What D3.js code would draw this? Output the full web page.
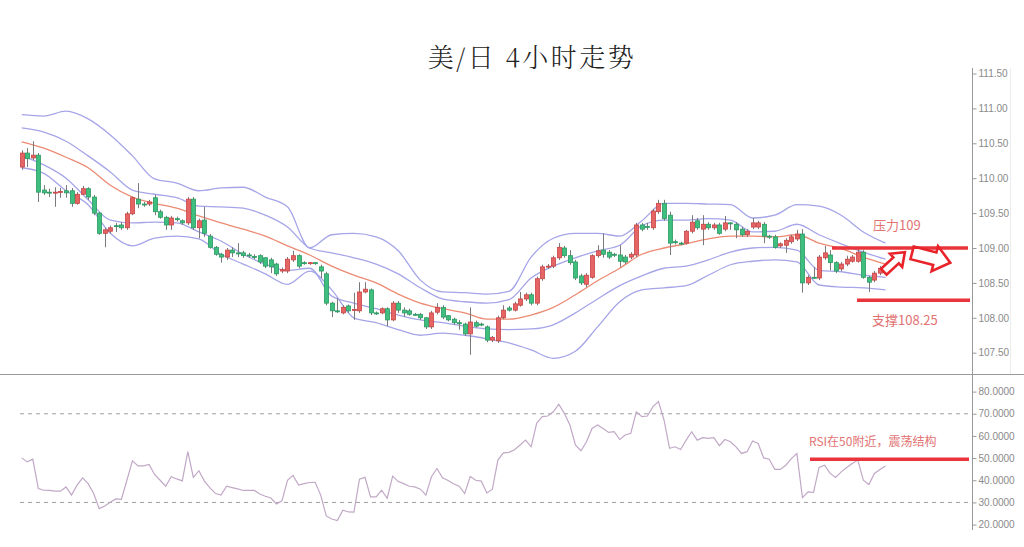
<!DOCTYPE html>
<html><head><meta charset="utf-8">
<script src="https://cdn.jsdelivr.net/npm/d3@7"></script>
<style>body{margin:0;background:#fff}svg{display:block}</style>
</head><body><svg id="c" width="1024" height="547"></svg>
<script>
const title = "美/日 4小时走势";
const opens = [110.16,110.36,110.29,110.33,109.83,109.80,109.79,109.80,109.82,109.82,
109.64,109.77,109.85,109.73,109.50,109.21,109.24,109.32,109.33,109.29,
109.49,109.70,109.63,109.63,109.72,109.52,109.44,109.33,109.42,109.39,
109.36,109.70,109.29,109.40,109.17,109.01,108.91,108.87,108.97,108.93,
108.93,108.90,108.88,108.89,108.86,108.83,108.77,108.67,108.67,108.83,
108.89,108.79,108.78,108.79,108.73,108.63,108.21,108.10,108.07,108.17,
108.11,108.10,108.37,108.40,108.07,108.07,108.13,107.97,108.21,108.11,
108.10,108.05,108.05,108.00,107.87,108.08,108.15,108.03,107.98,107.93,
107.91,107.77,107.93,107.91,107.87,107.68,107.67,108.00,108.14,108.11,
108.18,108.27,108.33,108.21,108.56,108.73,108.74,108.86,109.00,108.89,
108.80,108.60,108.48,108.58,108.89,108.97,108.94,108.91,108.90,108.87,
108.87,108.90,109.33,109.31,109.29,109.52,109.64,109.47,109.09,109.07,
109.07,109.24,109.39,109.27,109.34,109.29,109.33,109.27,109.36,109.34,
109.27,109.19,109.30,109.30,109.34,109.17,109.16,109.03,109.04,109.09,
109.13,109.20,108.50,108.58,108.57,108.86,108.90,108.79,108.70,108.77,
108.81,108.81,108.94,108.58,108.54,108.64,108.71];
const highs = [110.40,110.43,110.53,110.36,109.90,109.85,109.87,109.86,109.90,109.86,
109.80,109.89,109.87,109.76,109.52,109.29,109.32,109.36,109.37,109.52,
109.74,109.93,109.66,109.69,109.76,109.55,109.46,109.46,109.45,109.41,
109.73,109.73,109.42,109.59,109.20,109.03,108.93,109.00,109.01,109.07,
108.96,108.93,108.91,108.91,108.87,108.86,108.79,108.72,108.87,108.96,
108.91,108.81,108.80,108.80,108.76,108.66,108.23,108.28,108.18,108.19,
108.36,108.51,108.51,108.42,108.09,108.15,108.15,108.24,108.24,108.15,
108.13,108.07,108.07,108.01,108.10,108.21,108.18,108.04,108.00,107.97,
107.93,108.15,107.96,107.93,107.89,107.74,108.03,108.18,108.17,108.23,
108.37,108.36,108.36,108.59,108.76,108.77,108.89,109.07,109.03,108.97,
108.83,108.63,108.64,108.91,109.04,109.21,108.97,108.93,109.04,108.90,
108.94,109.36,109.36,109.36,109.56,109.69,109.69,109.52,109.12,109.09,
109.26,109.47,109.43,109.47,109.37,109.36,109.36,109.46,109.37,109.37,
109.30,109.27,109.43,109.39,109.37,109.19,109.19,109.08,109.14,109.19,
109.26,109.27,108.61,108.73,108.90,109.03,108.97,108.81,108.80,108.89,
108.90,108.99,108.97,108.60,108.67,108.74,108.80];
const lows = [110.12,110.16,110.26,109.66,109.76,109.73,109.59,109.72,109.72,109.59,
109.62,109.76,109.69,109.47,109.19,109.01,109.21,109.23,109.26,109.26,
109.47,109.57,109.59,109.60,109.47,109.42,109.26,109.26,109.38,109.33,
109.33,109.26,109.14,109.16,108.99,108.89,108.79,108.83,108.87,108.87,
108.86,108.86,108.84,108.77,108.71,108.64,108.60,108.64,108.64,108.80,
108.71,108.76,108.76,108.76,108.57,108.18,108.01,108.07,108.05,108.07,
107.97,108.07,108.35,108.04,108.04,108.05,107.88,107.95,108.07,108.01,
108.03,108.03,107.97,107.84,107.84,108.05,107.98,107.95,107.90,107.83,
107.74,107.47,107.86,107.88,107.65,107.65,107.64,107.98,108.09,108.09,
108.16,108.24,108.18,108.18,108.53,108.70,108.71,108.83,108.86,108.76,
108.54,108.47,108.44,108.56,108.86,108.86,108.84,108.87,108.73,108.77,
108.84,108.87,109.24,109.26,109.26,109.49,109.39,108.90,109.05,109.04,
109.05,109.21,109.26,109.04,109.26,109.26,109.19,109.24,109.26,109.14,
109.16,109.16,109.27,109.27,109.07,109.13,108.99,109.00,108.93,109.06,
109.10,108.36,108.47,108.56,108.54,108.83,108.68,108.64,108.67,108.74,
108.79,108.79,108.56,108.37,108.51,108.61,108.69];
const closes = [110.36,110.28,110.33,109.80,109.79,109.79,109.80,109.81,109.79,109.64,
109.77,109.85,109.73,109.50,109.21,109.26,109.29,109.31,109.29,109.49,
109.72,109.63,109.62,109.66,109.52,109.44,109.33,109.43,109.41,109.36,
109.70,109.29,109.39,109.21,109.01,108.91,108.87,108.97,108.93,108.92,
108.89,108.89,108.87,108.80,108.74,108.73,108.63,108.69,108.84,108.89,
108.74,108.78,108.79,108.78,108.67,108.21,108.10,108.09,108.15,108.10,
108.12,108.37,108.41,108.07,108.06,108.13,107.97,108.21,108.11,108.07,
108.05,108.04,108.00,107.87,108.07,108.15,108.01,107.97,107.93,107.92,
107.77,107.94,107.88,107.90,107.68,107.72,108.00,108.11,108.11,108.20,
108.27,108.33,108.21,108.56,108.73,108.74,108.86,109.01,108.89,108.79,
108.57,108.50,108.61,108.89,108.96,108.91,108.87,108.90,108.81,108.80,
108.91,109.33,109.27,109.30,109.53,109.64,109.42,109.07,109.08,109.06,
109.24,109.37,109.29,109.34,109.29,109.33,109.21,109.36,109.35,109.26,
109.19,109.24,109.36,109.36,109.17,109.16,109.01,109.06,109.11,109.16,
109.20,108.50,108.58,108.57,108.87,108.93,108.79,108.67,108.77,108.84,
108.87,108.94,108.58,108.51,108.64,108.71,108.76];

const bandIdx = [0,4,8,12,16,20,24,28,32,36,40,44,48,52,56,60,64,68,72,76,
80,84,88,92,96,100,104,108,112,116,120,124,128,132,136,140,144,148,152,156];
const bandUpperOuter = [110.91,110.89,110.96,110.85,110.62,110.32,109.99,109.93,109.82,109.86,
109.87,109.73,109.59,109.00,109.19,109.21,109.16,108.96,108.54,108.37,
108.36,108.34,108.38,108.87,109.14,109.21,109.21,109.17,109.39,109.64,
109.64,109.63,109.62,109.43,109.47,109.62,109.60,109.47,109.23,109.07];
const bandUpperInner = [110.72,110.66,110.53,110.32,110.09,109.83,109.77,109.72,109.60,109.59,
109.57,109.47,109.30,109.00,108.93,108.86,108.77,108.63,108.43,108.27,
108.23,108.21,108.26,108.57,108.74,108.86,108.96,109.04,109.32,109.40,
109.40,109.42,109.40,109.23,109.24,109.34,109.19,109.06,108.94,108.84];
const bandMiddle = [110.52,110.43,110.30,110.15,109.90,109.73,109.64,109.57,109.46,109.36,
109.27,109.17,109.03,108.90,108.74,108.61,108.50,108.34,108.21,108.13,
108.07,107.98,107.98,108.04,108.15,108.33,108.53,108.71,108.91,109.00,
109.06,109.13,109.17,109.17,109.16,109.19,109.07,108.99,108.87,108.77];
const bandLowerInner = [110.32,110.19,110.00,109.69,109.40,109.36,109.37,109.36,109.23,109.10,
108.91,108.77,108.68,108.71,108.31,108.21,108.13,108.04,107.97,107.93,
107.88,107.84,107.83,107.84,107.90,108.07,108.27,108.46,108.60,108.71,
108.74,108.83,108.94,109.00,109.01,108.97,108.68,108.66,108.61,108.58];
const bandLowerOuter = [110.15,110.07,109.82,109.62,109.21,109.03,109.14,109.17,109.13,108.91,
108.77,108.63,108.48,108.67,108.40,108.00,107.93,107.83,107.75,107.78,
107.75,107.70,107.64,107.54,107.42,107.52,107.87,108.23,108.40,108.43,
108.46,108.61,108.76,108.81,108.83,108.80,108.47,108.44,108.43,108.40];

const rsi = [50.1,48.3,49.5,36.3,35.5,35.4,35.1,35.1,37.0,33.3,
37.8,41.1,38.5,34.0,27.2,28.4,30.1,31.6,31.4,40.0,
48.8,46.5,46.5,47.1,42.6,40.0,37.3,41.6,40.6,39.7,
52.9,41.3,44.3,39.6,36.6,34.0,33.3,37.3,36.7,36.1,
35.4,35.4,35.4,33.8,32.8,32.0,29.3,30.7,40.0,42.2,
37.8,38.5,39.0,39.1,33.3,23.9,22.5,21.8,26.5,25.7,
25.6,40.5,41.3,32.5,32.5,35.5,31.9,41.9,39.4,38.5,
37.3,37.0,36.0,33.3,41.6,45.3,41.1,39.9,38.4,37.3,
34.0,41.7,40.0,39.6,34.3,36.0,49.1,52.4,52.6,53.8,
55.9,58.1,55.1,65.7,68.7,69.0,70.9,74.3,70.2,64.9,
55.9,53.3,57.4,63.4,64.9,63.4,61.6,61.9,58.4,60.4,
61.2,70.9,68.7,69.0,73.2,75.5,67.2,54.4,55.1,53.9,
58.1,61.9,58.1,59.2,58.9,59.2,55.6,58.4,57.4,55.1,
52.1,52.9,57.7,56.6,50.1,49.5,44.9,44.9,46.8,49.8,
52.1,32.2,34.8,34.5,45.8,46.8,43.1,41.3,43.8,45.8,
47.6,49.1,40.0,38.1,43.1,44.9,46.4];

const priceTicks = [107.5,108.0,108.5,109.0,109.5,110.0,110.5,111.0,111.5];
const rsiTicks = [20,30,40,50,60,70,80];
const rsiGuides = [30,70];
const resistanceLevel = 109.00;
const supportLevel = 108.25;
const rsiLevel = 49.5;
const resistanceLabel = "压力109";
const supportLabel = "支撑108.25";
const rsiLabel = "RSI在50附近，震荡结构";
// hollow arrow annotations: [fromIndex, fromPrice, toIndex, toPrice]
const arrowA = [155.7, 108.66, 159.5, 108.94];
const arrowB = [160.8, 108.93, 167.7, 108.79];

const svg = d3.select("#c");
svg.append("rect").attr("width",1024).attr("height",547).attr("fill","#fff");

const x = d3.scaleLinear().domain([0,156]).range([21.7,885.5]);
const y = d3.scaleLinear().domain([107.5,111.5]).range([352.7,73.5]);
const yr = d3.scaleLinear().domain([20,80]).range([524.6,391.6]);
const AXIS_X = 972;

// title
svg.append("text").attr("x",532).attr("y",67).attr("text-anchor","middle")
  .attr("font-family","'Noto Serif CJK SC','Noto Sans CJK SC',serif")
  .attr("font-size",26).attr("font-weight",300).attr("letter-spacing",2.5).attr("fill","#222").text(title);

// frame lines
svg.append("line").attr("x1",0).attr("x2",1024).attr("y1",374.5).attr("y2",374.5).attr("stroke","#9a9a9a");
svg.append("line").attr("x1",AXIS_X+0.5).attr("x2",AXIS_X+0.5).attr("y1",68).attr("y2",530).attr("stroke","#999");
svg.append("line").attr("x1",1010.5).attr("x2",1010.5).attr("y1",68).attr("y2",374).attr("stroke","#ececec");

// price axis
const pa = svg.append("g").attr("transform",`translate(${AXIS_X+0.5},0)`)
  .call(d3.axisRight(y).tickValues(priceTicks).tickFormat(d3.format(".2f")).tickSize(4).tickPadding(2));
pa.select(".domain").remove();
pa.selectAll("line").attr("stroke","#999");
pa.selectAll("text").attr("fill","#8a8a8a").attr("font-family","'Liberation Sans',Arial,sans-serif").attr("font-size",10);

// rsi axis
const ra = svg.append("g").attr("transform",`translate(${AXIS_X+0.5},0)`)
  .call(d3.axisRight(yr).tickValues(rsiTicks).tickFormat(d3.format(".4f")).tickSize(4).tickPadding(2));
ra.select(".domain").remove();
ra.selectAll("line").attr("stroke","#999");
ra.selectAll("text").attr("fill","#8a8a8a").attr("font-family","'Liberation Sans',Arial,sans-serif").attr("font-size",10);

// bands
const bandLine = arr => d3.line().curve(d3.curveMonotoneX)
  .x((d,i)=>x(bandIdx[i])).y(d=>y(d))(arr);
[bandUpperOuter,bandUpperInner,bandLowerInner,bandLowerOuter].forEach(a=>{
  svg.append("path").attr("d",bandLine(a)).attr("fill","none")
    .attr("stroke","#a5a5e8").attr("stroke-width",1.3);
});
svg.append("path").attr("d",bandLine(bandMiddle)).attr("fill","none")
  .attr("stroke","#ec8b74").attr("stroke-width",1.3);

// candles
const candles = opens.map((o,i)=>({i,o,h:highs[i],l:lows[i],c:closes[i]}));
const cg = svg.append("g");
cg.selectAll("line.w").data(candles).join("line").attr("class","w")
  .attr("x1",d=>Math.round(x(d.i))+0.5).attr("x2",d=>Math.round(x(d.i))+0.5)
  .attr("y1",d=>y(d.h)).attr("y2",d=>y(d.l)).attr("stroke","#7a7a7a").attr("stroke-width",1);
cg.selectAll("rect").data(candles).join("rect")
  .attr("x",d=>Math.round(x(d.i))-1.5).attr("width",4)
  .attr("y",d=>y(Math.max(d.o,d.c)))
  .attr("height",d=>Math.max(1,Math.abs(y(d.o)-y(d.c))))
  .attr("fill",d=>d.c>=d.o?"#e56464":"#3fbf7f")
  .attr("stroke",d=>d.c>=d.o?"#c94444":"#2a9a62").attr("stroke-width",0.8);

// rsi guides
rsiGuides.forEach(v=>{
  svg.append("line").attr("x1",20).attr("x2",AXIS_X).attr("y1",yr(v)).attr("y2",yr(v))
    .attr("stroke","#a0a0a0").attr("stroke-dasharray","4,4");
});
// rsi line
svg.append("path").attr("d",d3.line().x((d,i)=>x(i)).y(d=>yr(d))(rsi))
  .attr("fill","none").attr("stroke","#c1a8c6").attr("stroke-width",1.2);

// annotations
const RED = "#e8343a";
const TXT = "#e27272";
svg.append("line").attr("x1",832).attr("x2",968).attr("y1",y(resistanceLevel)).attr("y2",y(resistanceLevel))
  .attr("stroke",RED).attr("stroke-width",3.5);
svg.append("line").attr("x1",857).attr("x2",970).attr("y1",y(supportLevel)).attr("y2",y(supportLevel))
  .attr("stroke",RED).attr("stroke-width",3.5);
svg.append("line").attr("x1",810).attr("x2",969).attr("y1",yr(rsiLevel)).attr("y2",yr(rsiLevel))
  .attr("stroke",RED).attr("stroke-width",3.5);
const cjk = "'Noto Sans CJK SC','Noto Sans',sans-serif";
svg.append("text").attr("x",873).attr("y",230).attr("font-family",cjk).attr("font-size",13).attr("fill",TXT).text(resistanceLabel);
svg.append("text").attr("x",872).attr("y",325).attr("font-family",cjk).attr("font-size",13).attr("fill",TXT).text(supportLabel);
svg.append("text").attr("x",809).attr("y",446).attr("font-family",cjk).attr("font-size",12).attr("fill",TXT).text(rsiLabel);

function blockArrow(a, w, h, hl){
  const x1=x(a[0]), y1=y(a[1]), x2=x(a[2]), y2=y(a[3]);
  const L=Math.hypot(x2-x1,y2-y1), ang=Math.atan2(y2-y1,x2-x1)*180/Math.PI;
  const pts=[[0,-w],[L-hl,-w],[L-hl,-h],[L,0],[L-hl,h],[L-hl,w],[0,w]];
  svg.append("polygon").attr("points",pts.map(p=>p.join(",")).join(" "))
    .attr("transform",`translate(${x1},${y1}) rotate(${ang})`)
    .attr("fill","#fff").attr("stroke","#e8242a").attr("stroke-width",2.6).attr("stroke-linejoin","miter");
}
blockArrow(arrowA, 4, 9, 12);
blockArrow(arrowB, 6.5, 13, 16);
</script></body></html>
